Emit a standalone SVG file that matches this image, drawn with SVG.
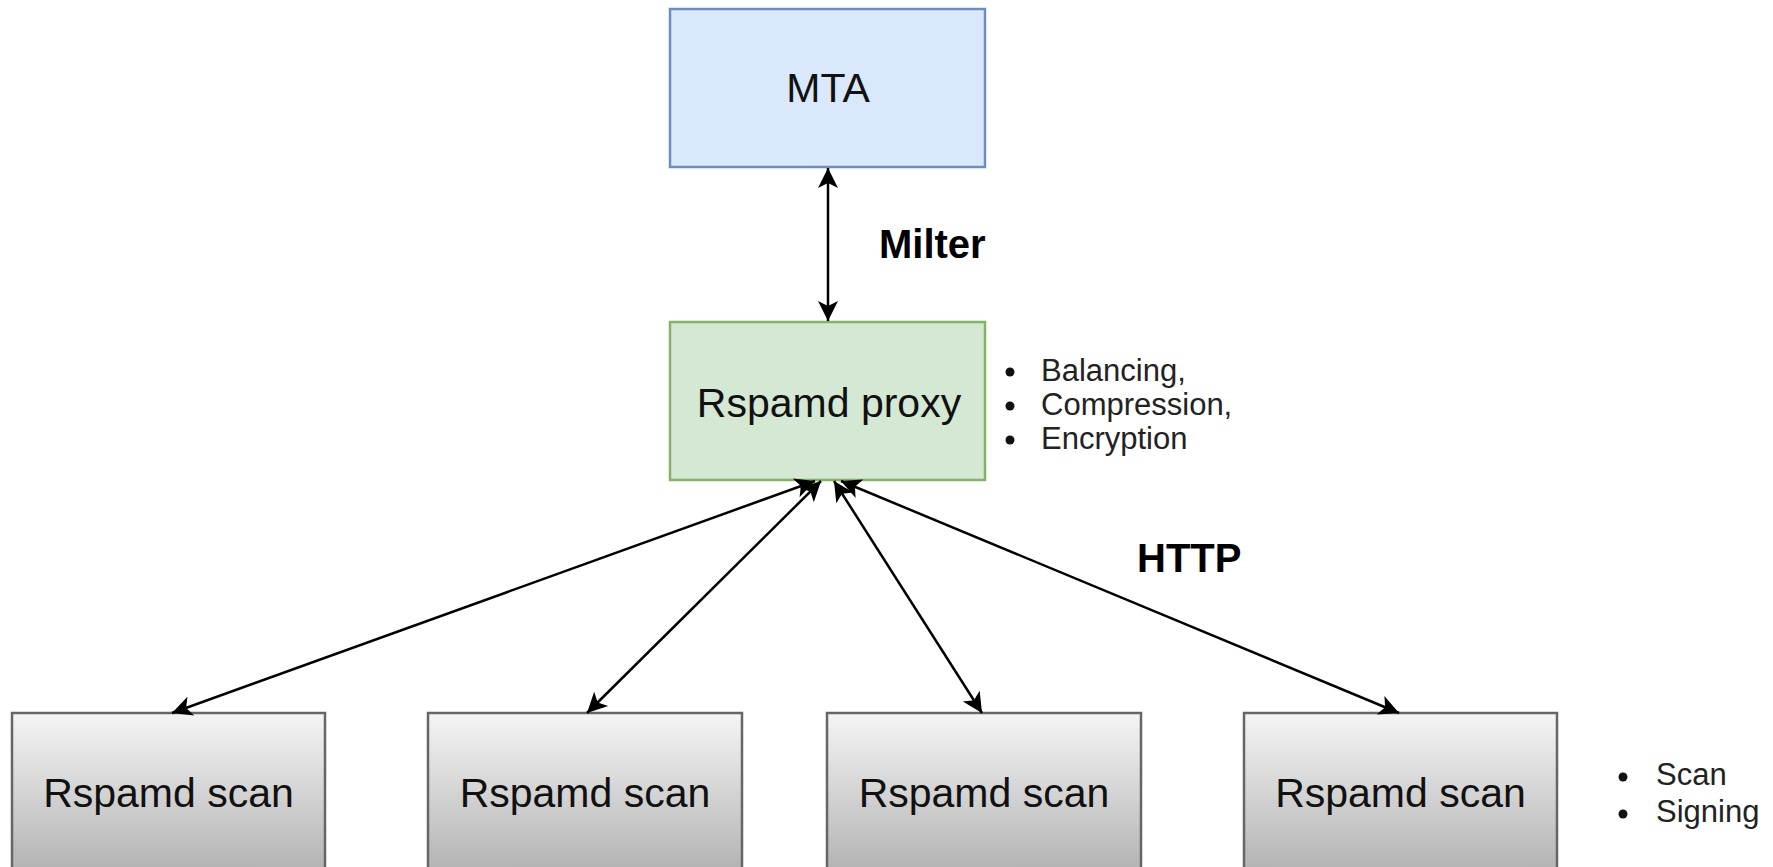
<svg xmlns="http://www.w3.org/2000/svg" width="1773" height="867" viewBox="0 0 1773 867">
<style>
.node{font-family:"Liberation Sans",Arial,sans-serif;font-size:41px;fill:#111;text-anchor:middle}
.lbl{font-family:"Liberation Sans",Arial,sans-serif;font-size:40px;font-weight:bold;fill:#000}
.bul{font-family:"Liberation Sans",Arial,sans-serif;font-size:31px;fill:#222}
.edge{stroke:#000;stroke-width:2.5;fill:none;marker-start:url(#arr);marker-end:url(#arr)}
.scan{fill:url(#grey);stroke:#666;stroke-width:2.5}
</style>
<defs>
<linearGradient id="grey" x1="0" y1="0" x2="0" y2="1">
<stop offset="0" stop-color="#f5f5f5"/>
<stop offset="1" stop-color="#b3b3b3"/>
</linearGradient>
<marker id="arr" viewBox="0 -11 21 22" refX="20" refY="0" markerWidth="21" markerHeight="22" markerUnits="userSpaceOnUse" orient="auto-start-reverse">
<path d="M0,-10 L20,0 L0,10 L5,0 Z" fill="#000"/>
</marker>
</defs>
<rect width="1773" height="867" fill="#fff"/>
<g id="mta">
<rect x="670" y="9" width="315" height="158" fill="#dae8fc" stroke="#6c8ebf" stroke-width="2.5"/>
<text class="node" x="828" y="102">MTA</text>
</g>
<g id="proxy">
<rect x="670" y="322" width="315" height="158" fill="#d5e8d4" stroke="#82b366" stroke-width="2.5"/>
<text class="node" x="829" y="417">Rspamd proxy</text>
</g>
<g id="proxy-notes">
<circle cx="1010" cy="372" r="4.5" fill="#111"/>
<circle cx="1010" cy="406" r="4.5" fill="#111"/>
<circle cx="1010" cy="440" r="4.5" fill="#111"/>
<text class="bul" x="1041" y="381">Balancing,</text>
<text class="bul" x="1041" y="415">Compression,</text>
<text class="bul" x="1041" y="449">Encryption</text>
</g>
<g id="scan1">
<rect class="scan" x="12" y="713" width="313" height="158"/>
<text class="node" x="168.5" y="807">Rspamd scan</text>
</g>
<g id="scan2">
<rect class="scan" x="428" y="713" width="314" height="158"/>
<text class="node" x="585" y="807">Rspamd scan</text>
</g>
<g id="scan3">
<rect class="scan" x="827" y="713" width="314" height="158"/>
<text class="node" x="984" y="807">Rspamd scan</text>
</g>
<g id="scan4">
<rect class="scan" x="1244" y="713" width="313" height="158"/>
<text class="node" x="1400.5" y="807">Rspamd scan</text>
</g>
<g id="scan-notes">
<circle cx="1623" cy="777" r="4.5" fill="#111"/>
<circle cx="1623" cy="814" r="4.5" fill="#111"/>
<text class="bul" x="1656" y="785">Scan</text>
<text class="bul" x="1656" y="822">Signing</text>
</g>
<g id="connectors">
<line class="edge" x1="828" y1="168" x2="828" y2="321"/>
<line class="edge" x1="815" y1="481" x2="172" y2="713"/>
<line class="edge" x1="821" y1="481" x2="587" y2="713"/>
<line class="edge" x1="834" y1="481" x2="982" y2="713"/>
<line class="edge" x1="841" y1="481" x2="1399" y2="713"/>
<text class="lbl" x="879" y="258">Milter</text>
<text class="lbl" x="1137" y="572">HTTP</text>
</g>
</svg>
